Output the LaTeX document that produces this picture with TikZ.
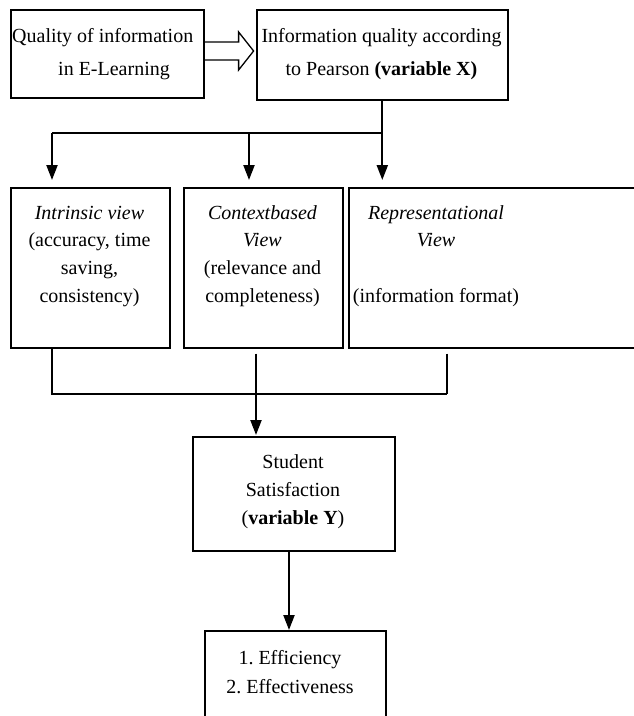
\documentclass[tikz,border=0pt]{standalone}
\usepackage{fontspec}
\setmainfont{Liberation Serif}
\usetikzlibrary{arrows.meta}
\begin{document}
\begin{tikzpicture}[x=1bp,y=-1bp,
  box/.style 2 args={draw, line width=1.6bp, anchor=north west, inner sep=0pt,
    minimum width=#1 bp, minimum height=#2 bp},
  txt/.style={inner sep=0pt, align=center, font=\fontsize{20bp}{27.6bp}\selectfont},
  toptxt/.style={inner sep=0pt, font=\fontsize{20bp}{33bp}\selectfont},
  conn/.style={line width=1.2bp},
  arr/.style={line width=2.2bp, -{Triangle[width=11bp,length=15bp]}},
  hollow/.style={line width=1.3bp, line join=miter}
]
\useasboundingbox (0,0) rectangle (634,716);
\clip (0,0) rectangle (634,716);

% boxes
\node[box={193}{88}]  (b1) at (10,9) {};
\node[box={251}{90}]  (b2) at (256,9) {};
\node[box={159}{160}] (bA) at (10,187) {};
\node[box={159}{160}] (bB) at (183,187) {};
\node[box={300}{160}] (bC) at (348,187) {};
\node[box={202}{114}] (bS) at (192,436) {};
\node[box={181}{110}] (bE) at (204,630) {};

% texts (anchor base = baseline of last line)
\node[toptxt, anchor=base west, align=left] (t1) at (12,76)
  {Quality of information\\\hspace*{46bp}in E-Learning};
\node[toptxt, anchor=base, align=center] (t2) at (381.5,76)
  {Information quality according\\to Pearson \textbf{(variable X)}};
\node[txt, anchor=base] (tA) at (89.5,302)
  {\textit{Intrinsic view}\\(accuracy, time\\saving,\\consistency)};
\node[txt, anchor=base] (tB) at (262.5,302)
  {\textit{Contextbased}\\\textit{View}\\(relevance and\\completeness)};
\node[txt, anchor=base] (tC) at (436,302)
  {\textit{Representational}\\\textit{View}\\[27.6bp](information format)};
\node[txt, anchor=base, font=\fontsize{20bp}{28bp}\selectfont] (tS) at (293,524)
  {Student\\Satisfaction\\(\textbf{variable Y})};
\node[txt, anchor=base, font=\fontsize{20bp}{29bp}\selectfont] (tE) at (290,693)
  {1.\ Efficiency\\2.\ Effectiveness};

% hollow arrow
\draw[hollow] (b1.east |- 0,42) -- ++(34,0) -- ++(0,-10) -- ++(15,19)
  -- ++(-15,19) -- ++(0,-10) -- (b1.east |- 0,60);

% split from b2
\coordinate (j1) at (b2.south |- 0,133);
\coordinate (jA) at (52,133);
\coordinate (jB) at (249,133);
\draw[line width=2.2bp] (b2.south) -- (j1) -- (jA);
\draw[arr, shorten >=7bp] (jA) -- (jA |- bA.north);
\draw[arr, shorten >=7bp] (jB) -- (jB |- bB.north);
\draw[arr, shorten >=7bp] (j1) -- (j1 |- bC.north);

% merge into student box
\coordinate (mA) at (52,394);
\coordinate (mB) at (256,394);
\coordinate (mC) at (447,394);
\draw[conn] (mA |- bA.south) -- (mA) -- (mC);
\draw[conn, shorten <=5bp] (mC |- bC.south) -- (mC);
\draw[conn, shorten <=5bp] (mB |- bB.south) -- (mB);
\draw[arr, shorten >=1bp] (mB) -- (mB |- bS.north);

% student to outcomes
\coordinate (sB) at (289,550);
\draw[arr] (sB |- bS.south) -- (sB |- bE.north);
\end{tikzpicture}
\end{document}
